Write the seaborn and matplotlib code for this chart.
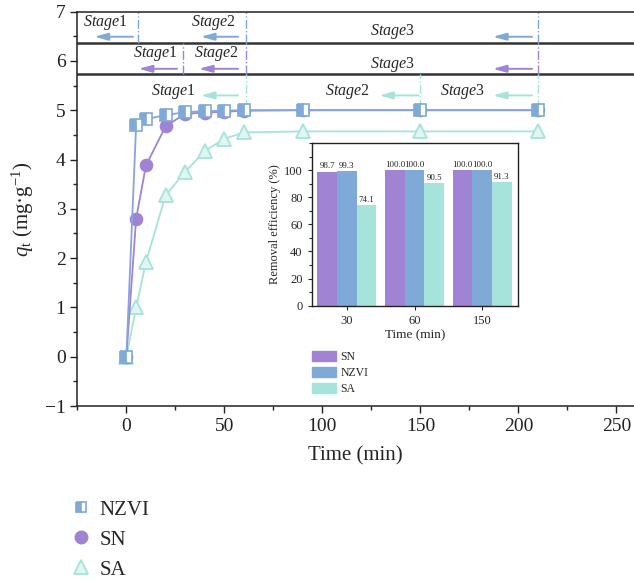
import numpy as np
import pandas as pd
import seaborn as sns
import matplotlib
matplotlib.use("Agg")
import matplotlib.pyplot as plt
from matplotlib.lines import Line2D
from matplotlib.patches import Patch
from matplotlib.ticker import MultipleLocator

# ---------------- data ----------------
time_min = [0, 5, 10, 20, 30, 40, 50, 60, 90, 150, 210]
q_nzvi = [0.0, 4.70, 4.82, 4.90, 4.96, 4.98, 4.99, 5.00, 5.00, 5.00, 5.00]
q_sn = [0.0, 2.80, 3.88, 4.67, 4.93, 4.95, 4.97, 4.99, 5.00, 5.00, 5.00]
q_sa = [0.0, 1.00, 1.92, 3.27, 3.75, 4.17, 4.42, 4.55, 4.57, 4.57, 4.57]

bar_times = ["30", "60", "150"]
eff_sn = [98.7, 100.0, 100.0]
eff_nzvi = [99.3, 100.0, 100.0]
eff_sa = [74.1, 90.5, 91.3]

stage_div_nzvi = [6, 61, 210]
stage_div_sn = [29, 61, 210]
stage_div_sa = [61, 150, 210]

c_nzvi = "#7fa9d6"
c_sn = "#a083d3"
c_sa = "#a6e3da"
c_nzvi_line = "#8aa2de"

# ---------------- style ----------------
sns.set_style("ticks")
plt.rcParams["font.family"] = ["Liberation Serif", "DejaVu Serif"]
plt.rcParams["mathtext.fontset"] = "custom"
plt.rcParams["mathtext.rm"] = "Liberation Serif"
plt.rcParams["mathtext.it"] = "Liberation Serif:italic"
plt.rcParams["axes.unicode_minus"] = True

fig = plt.figure(figsize=(6.34, 5.83), dpi=100)
ax = fig.add_axes([0.122, 0.3036, 0.878, 0.6765])

df = pd.DataFrame({"t": time_min, "NZVI": q_nzvi, "SN": q_sn, "SA": q_sa})

sns.lineplot(data=df, x="t", y="SA", ax=ax, color=c_sa, lw=1.3,
             marker="^", markersize=10, markerfacecolor="#dff6f2",
             markeredgecolor=c_sa, markeredgewidth=1.3, zorder=3)
sns.lineplot(data=df, x="t", y="SN", ax=ax, color=c_sn, lw=1.3,
             marker="o", markersize=9, markerfacecolor=c_sn,
             markeredgecolor=c_sn, markeredgewidth=0.8, zorder=4)
sns.lineplot(data=df, x="t", y="NZVI", ax=ax, color=c_nzvi_line, lw=1.3,
             marker="s", markersize=8, fillstyle="left",
             markerfacecolor=c_nzvi, markerfacecoloralt="white",
             markeredgecolor=c_nzvi, markeredgewidth=1.2, zorder=5)

ax.set_xlim(-25, 259)
ax.set_ylim(-1, 7)
ax.xaxis.set_major_locator(MultipleLocator(50))
ax.xaxis.set_minor_locator(MultipleLocator(25))
ax.yaxis.set_major_locator(MultipleLocator(1))
ax.yaxis.set_minor_locator(MultipleLocator(0.5))
ax.tick_params(which="both", direction="out", labelsize=14, width=1, colors="#222222")
ax.tick_params(which="major", length=5)
ax.tick_params(which="minor", length=3)
ax.spines["right"].set_visible(False)
for s in ["left", "bottom", "top"]:
    ax.spines[s].set_linewidth(1.1)
    ax.spines[s].set_color("#222222")
ax.set_xlabel("Time (min)", fontsize=15, labelpad=8)
ax.set_ylabel(r"$q_{\mathrm{t}}$ (mg·g$^{-1}$)", fontsize=15, labelpad=6)

# stage bands
ax.axhline(6.36, color="#333333", lw=1.8, zorder=2)
ax.axhline(5.73, color="#333333", lw=1.8, zorder=2)

for xv in stage_div_nzvi:
    ax.plot([xv, xv], [6.36, 7.0], ls="-.", color=c_nzvi, lw=1.0)
for xv in stage_div_sn:
    ax.plot([xv, xv], [5.73, 6.36], ls="-.", color=c_sn, lw=1.0)
for xv in stage_div_sa:
    ax.plot([xv, xv], [5.05, 5.73], ls="-.", color=c_sa, lw=1.0)

def arrow(x0, x1, y, c):
    ax.annotate("", xy=(x1, y), xytext=(x0, y),
                arrowprops=dict(arrowstyle="-|>,head_length=0.8,head_width=0.22",
                                color=c, lw=1.4, shrinkA=0, shrinkB=0))

for (x0, x1) in [(3.4, -16.3), (57, 38), (207, 187)]:
    arrow(x0, x1, 6.49, c_nzvi)
for (x0, x1) in [(25.9, 6.3), (57, 37), (207, 187)]:
    arrow(x0, x1, 5.84, c_sn)
for (x0, x1) in [(57, 38), (149, 129), (207, 187)]:
    arrow(x0, x1, 5.30, c_sa)

def stage(x, y, n):
    ax.text(x, y, r"$\mathit{Stage}$" + str(n), ha="center", va="center", fontsize=11.5)

stage(-10.7, 6.77, 1); stage(44.5, 6.77, 2); stage(135.7, 6.6, 3)
stage(14.6, 6.15, 1); stage(46, 6.15, 2); stage(135.7, 5.92, 3)
stage(23.7, 5.38, 1); stage(112.7, 5.38, 2); stage(171.4, 5.38, 3)

# main legend
handles = [
    Line2D([], [], ls="none", marker="s", markersize=7, fillstyle="left",
           markerfacecolor=c_nzvi, markerfacecoloralt="white",
           markeredgecolor=c_nzvi, markeredgewidth=1.2),
    Line2D([], [], ls="none", marker="o", markersize=9, color=c_sn),
    Line2D([], [], ls="none", marker="^", markersize=10, markerfacecolor="#dff6f2",
           markeredgecolor=c_sa, markeredgewidth=1.3),
]
fig.legend(handles, ["NZVI", "SN", "SA"], loc="upper left",
           bbox_to_anchor=(0.118, 1 - 500 / 583), frameon=False, fontsize=15,
           handlelength=0.6, handletextpad=0.6, labelspacing=0.5,
           borderaxespad=0, borderpad=0)

# ---------------- inset ----------------
axi = fig.add_axes([0.4917, 0.4757, 0.3253, 0.279])
bdf = pd.DataFrame({
    "time": bar_times * 3,
    "eff": eff_sn + eff_nzvi + eff_sa,
    "mat": ["SN"] * 3 + ["NZVI"] * 3 + ["SA"] * 3,
})
sns.barplot(data=bdf, x="time", y="eff", hue="mat", order=bar_times,
            hue_order=["SN", "NZVI", "SA"], palette=[c_sn, c_nzvi, c_sa],
            width=0.87, ax=axi, legend=False, saturation=1, linewidth=0)
for cont in axi.containers:
    axi.bar_label(cont, fmt="%.1f", fontsize=6.5, padding=1)
axi.set_ylim(0, 120)
axi.set_xlim(-0.52, 2.53)
axi.yaxis.set_major_locator(MultipleLocator(20))
axi.yaxis.set_minor_locator(MultipleLocator(10))
axi.set_yticks([0, 20, 40, 60, 80, 100])
axi.tick_params(which="both", direction="out", labelsize=9, width=0.8)
axi.tick_params(which="major", length=3)
axi.tick_params(which="minor", length=2)
for s in axi.spines.values():
    s.set_visible(True)
    s.set_linewidth(1.0)
    s.set_color("#222222")
axi.set_xlabel("Time (min)", fontsize=9.5, labelpad=2)
axi.set_ylabel("Removal efficiency (%)", fontsize=9, labelpad=2)

ph = [Patch(color=c_sn), Patch(color=c_nzvi), Patch(color=c_sa)]
fig.legend(ph, ["SN", "NZVI", "SA"], loc="upper left",
           bbox_to_anchor=(0.492, 1 - 351 / 583), frameon=False, fontsize=8.5,
           handlelength=2.0, handleheight=0.9, handletextpad=0.4,
           labelspacing=0.35, borderaxespad=0, borderpad=0)

fig.savefig("out.png", dpi=100)
